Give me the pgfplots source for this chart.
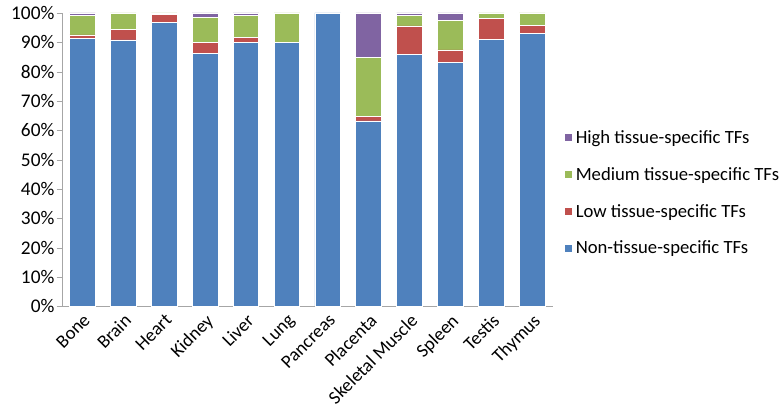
\documentclass[border=0pt]{standalone}
\usepackage{pgfplots}
\pgfplotsset{compat=1.18}
\usepackage{fontspec}
\setmainfont{Carlito}
\definecolor{cblue}{HTML}{4F81BD}
\definecolor{cred}{HTML}{C0504D}
\definecolor{cgreen}{HTML}{9BBB59}
\definecolor{cpurple}{HTML}{8064A2}
\pgfplotstableread{
x non low med high
0 91.4 1.1 6.8 0.7
1 90.8 3.7 5.5 0.0
2 96.7 2.7 0.6 0.0
3 86.2 3.7 8.6 1.5
4 89.9 1.7 7.5 0.9
5 89.9 0.0 10.1 0.0
6 100.0 0.0 0.0 0.0
7 63.2 1.6 20.1 15.1
8 85.9 9.7 3.7 0.7
9 83.0 4.4 10.2 2.4
10 91.0 7.2 1.8 0.0
11 93.1 2.8 4.1 0.0
}\datatable
\begin{document}
\begin{tikzpicture}
\useasboundingbox (-46.5pt,-82.5pt) rectangle (541.5pt,229.75pt);
\begin{axis}[
  scale only axis,
  width=368pt, height=220pt,
  at={(0,0)}, anchor=south west,
  ybar stacked,
  bar width=19.3pt,
  xmin=-0.5, xmax=11.5,
  ymin=0, ymax=100,
  xtick={0,...,11},
  xticklabels={Bone,Brain,Heart,Kidney,Liver,Lung,Pancreas,Placenta,Skeletal Muscle,Spleen,Testis,Thymus},
  x tick label style={rotate=45, anchor=north east, font=\fontsize{14}{16}\selectfont, inner sep=0.5pt},
  xtick style={draw=none},
  ytick={0,10,...,100},
  yticklabel={\pgfmathprintnumber{\tick}\%},
  y tick label style={font=\fontsize{14.5}{16}\selectfont, inner sep=1.5pt},
  /pgf/number format/assume math mode=true,
  axis x line*=bottom, axis y line*=left,
  axis line style={draw=gray!70, -},
  ytick style={draw=gray!70},
  tick align=outside,
  major tick length=4pt,
  legend style={at={(1.015,0.386)}, anchor=west, draw=none, font=\fontsize{14}{16}\selectfont, row sep=12.5pt},
  legend cell align=left,
  reverse legend,
  legend image code/.code={\fill[#1] (0pt,-3pt) rectangle (6pt,3pt);},
  every axis plot/.append style={draw=white, line width=0.6pt},
]
\addplot[fill=cblue, draw=white] table[x=x,y=non]{\datatable};
\addplot[fill=cred, draw=white] table[x=x,y=low]{\datatable};
\addplot[fill=cgreen, draw=white] table[x=x,y=med]{\datatable};
\addplot[fill=cpurple, draw=white] table[x=x,y=high]{\datatable};
\legend{Non-tissue-specific TFs,Low tissue-specific TFs,Medium tissue-specific TFs,High tissue-specific TFs}
\end{axis}
\end{tikzpicture}
\end{document}
